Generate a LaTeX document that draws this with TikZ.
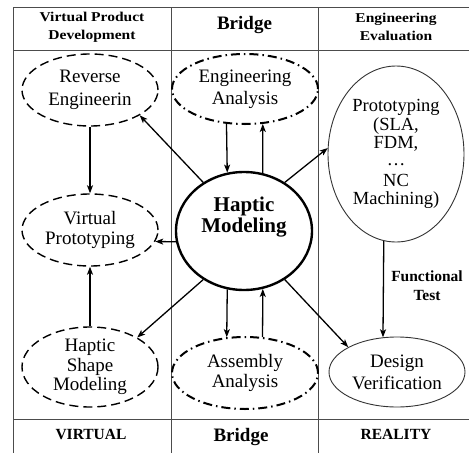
\documentclass[tikz,border=0pt]{standalone}
\usepackage{fontspec}
\setmainfont{Liberation Serif}
\newfontfamily\hdrfont[FakeStretch=1.15]{Liberation Serif}
\usetikzlibrary{shapes.geometric,arrows.meta}
\begin{document}
\begin{tikzpicture}[x=1pt,y=-1pt,
  grid/.style={draw=black!70,line width=1pt},
  elltext/.style={ellipse,inner sep=0pt,align=center,font=\fontsize{19}{21}\selectfont},
  virt/.style={elltext,draw,line width=1.4pt,dash pattern=on 9pt off 5pt},
  brg/.style={elltext,draw,line width=2pt,dash pattern=on 9pt off 4pt on 1.5pt off 4pt},
  real/.style={elltext,draw=black!80,line width=0.9pt},
  hdr/.style={align=center,inner sep=0pt,font=\hdrfont\bfseries\fontsize{13.5}{18}\selectfont},
  ftr/.style={align=center,inner sep=0pt,font=\bfseries\fontsize{15.5}{18}\selectfont},
  big/.style={align=center,inner sep=0pt,font=\bfseries\fontsize{19}{21}\selectfont},
  arr/.style={-{Stealth[length=8pt,width=6pt,inset=2pt]},line width=1.3pt}
]
\fill[white] (0,0) rectangle (469,453);
\useasboundingbox (0,0) rectangle (469,453);
% table
\draw[grid] (13,7) -- (469,7);
\draw[grid] (13,50) -- (469,50);
\draw[grid] (13,419) -- (469,419);
\draw[grid] (13,7) -- (13,453);
\draw[grid] (171,7) -- (171,453);
\draw[grid] (318,7) -- (318,453);
% headers
\node[hdr] (h1) at (92,27) {Virtual Product\\Development};
\node[big] (h2) at (244.5,25.5) {Bridge};
\node[hdr] (h3) at (396,27) {Engineering\\Evaluation};
\node[ftr] (f1) at (91,434.5) {VIRTUAL};
\node[big] (f2) at (241,437) {Bridge};
\node[ftr] (f3) at (396,434.5) {REALITY};
% ellipses
\node[virt,minimum width=136pt,minimum height=72pt,font=\fontsize{19}{23}\selectfont] (re) at (90,90) {Reverse\\Engineerin};
\node[virt,minimum width=136pt,minimum height=72pt,font=\fontsize{19}{20}\selectfont] (vp) at (90,230) {Virtual\\Prototyping};
\node[virt,minimum width=136pt,minimum height=80pt,font=\fontsize{19}{19.5}\selectfont] (hs) at (90,367) {Haptic\\Shape\\Modeling};
\node[brg,minimum width=146pt,minimum height=70pt,font=\fontsize{19}{22}\selectfont] (ea) at (245,89) {Engineering\\Analysis};
\node[brg,minimum width=146pt,minimum height=72pt,font=\fontsize{19}{20}\selectfont] (aa) at (245,373) {Assembly\\Analysis};
\node[ellipse,draw,line width=2.4pt,minimum width=136pt,minimum height=118pt,inner sep=0pt] (hm) at (244,231) {};
\node[align=center,inner sep=0pt,font=\bfseries\fontsize{21}{21}\selectfont] (hmlabel) at (244,217) {Haptic\\Modeling};
\node[real,minimum width=136pt,minimum height=176pt,font=\fontsize{18.5}{18.7}\selectfont] (pr) at (396,154) {Prototyping\\(SLA,\\FDM,\\\raisebox{2pt}{\dots}\\NC\\Machining)};
\node[real,minimum width=136pt,minimum height=70pt,font=\fontsize{19}{22}\selectfont] (dv) at (397,372) {Design\\Verification};
\node[align=center,inner sep=0pt,font=\bfseries\fontsize{15.5}{19}\selectfont] (ft) at (427,286) {Functional\\Test};
% arrows
\draw[arr] (re.south) -- (vp.north);
\draw[arr] (hs.north) -- (vp.south);
\draw[arr] (hm.130.5) -- (re.-27.5);
\draw[arr] (hm.189.4) -- (vp.-10.6);
\draw[arr] (hm.-130) -- (hs.32.5);
\draw[arr] (ea.-118) -- (hm.106.6);
\draw[arr] (hm.72.4) -- (ea.-63.4);
\draw[arr] (hm.-106.6) -- (aa.117.3);
\draw[arr] (aa.64.1) -- (hm.-72.4);
\draw[arr] (hm.50.8) -- (pr.175);
\draw[arr] (hm.-50) -- (dv.153);
\draw[arr] (pr.-98.6) -- (dv.112.2);
\end{tikzpicture}
\end{document}
